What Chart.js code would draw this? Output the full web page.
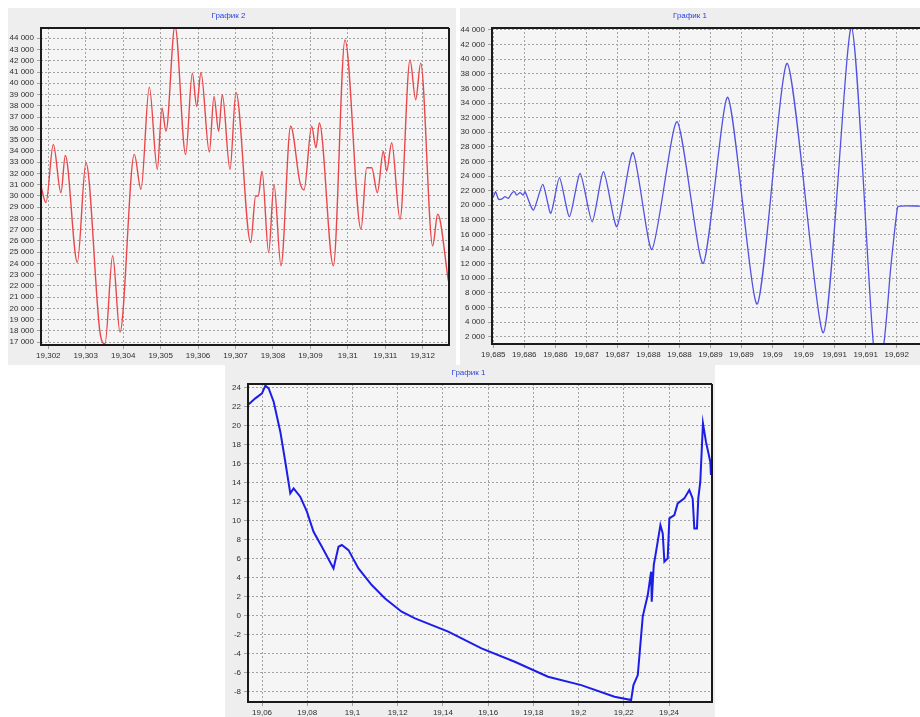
<!DOCTYPE html>
<html><head><meta charset="utf-8">
<script src="https://cdn.jsdelivr.net/npm/chart.js@4"></script>
<style>
html,body{margin:0;padding:0;background:#fff;width:920px;height:717px;overflow:hidden}
.panel{position:absolute;background:#eeeeee}
canvas{display:block}
</style></head><body>
<div class="panel" style="left:8px;top:8px;width:448px;height:357px"><canvas id="cA" width="448" height="357"></canvas></div>
<div class="panel" style="left:460px;top:8px;width:460px;height:357px"><canvas id="cB" width="460" height="357"></canvas></div>
<div class="panel" style="left:225px;top:365px;width:490px;height:352px"><canvas id="cC" width="490" height="352"></canvas></div>
<script>
// ---- Chart "График 2" (top left, red) ----
const titleA = 'График 2';
const xA = [19.301795,19.301938,19.302134,19.302338,19.302454,19.302775,19.303006,19.303380,19.303514,19.303719,
  19.303915,19.304297,19.304475,19.304698,19.304912,19.305036,19.305143,19.305384,19.305669,19.305847,
  19.305963,19.306078,19.306301,19.306426,19.306550,19.306648,19.306853,19.307013,19.307405,19.307539,
  19.307610,19.307708,19.307886,19.308028,19.308215,19.308474,19.308723,19.308830,19.309035,19.309150,
  19.309240,19.309614,19.309925,19.310353,19.310504,19.310638,19.310789,19.310949,19.311038,19.311172,
  19.311394,19.311662,19.311813,19.311947,19.312267,19.312401,19.312686];
const yA = [31020,29400,34560,30280,33590,24090,32940,17890,16860,24680,
  17890,33680,30580,39660,32350,37810,35740,45100,33680,40900,
  37950,40960,33880,38840,35740,38990,32350,39190,25860,29990,
  29990,32200,24970,31020,23790,36180,31170,30520,36180,34270,
  36480,23790,43850,27040,32500,32500,30280,33970,32200,34710,
  27920,42080,38540,41790,25560,28370,22470];
const xTicksA = [19.302,19.303,19.304,19.305,19.306,19.307,19.308,19.309,19.310,19.311,19.312];
const xTickLabelsA = ['19,302','19,303','19,304','19,305','19,306','19,307','19,308','19,309','19,31','19,311','19,312'];
const yTicksA = [17000,18000,19000,20000,21000,22000,23000,24000,25000,26000,27000,28000,29000,30000,
  31000,32000,33000,34000,35000,36000,37000,38000,39000,40000,41000,42000,43000,44000];

// ---- Chart "График 1" (top right, blue) ----
const titleB = 'График 1';
const xB = [19.684973,19.685000,19.685038,19.685081,19.685135,19.685188,19.685242,19.685296,19.685339,19.685377,
  19.685431,19.685484,19.685511,19.685646,19.685797,19.685926,19.686066,19.686227,19.686399,19.686593,
  19.686776,19.686991,19.687250,19.687556,19.687960,19.688380,19.688778,19.689252,19.689736,19.690318,
  19.690770,19.691136,19.691270,19.691405,19.691512,19.691555,19.691889];
const yB = [21080,21170,21850,20850,20850,21170,20940,21630,21850,21400,
  21720,21400,21850,19340,22860,18890,23770,18430,24370,17740,
  24590,17060,27200,13950,31440,12040,34780,6470,39430,2540,
  44370,-300,-300,11580,19710,19890,19890];
const xTicksB = [19.6850,19.6855,19.6860,19.6865,19.6870,19.6875,19.6880,19.6885,19.6890,19.6895,19.6900,19.6905,19.6910,19.6915];
const xTickLabelsB = ['19,685','19,686','19,686','19,687','19,687','19,688','19,688','19,689','19,689','19,69','19,69','19,691','19,691','19,692'];
const yTicksB = [2000,4000,6000,8000,10000,12000,14000,16000,18000,20000,22000,24000,26000,28000,
  30000,32000,34000,36000,38000,40000,42000,44000];

// ---- Chart "График 1" (bottom, blue) ----
const titleC = 'График 1';
const xC = [19.05412,19.05706,19.06000,19.06147,19.06294,19.06515,19.06809,19.07029,19.07250,19.07397,
  19.07691,19.07985,19.08279,19.08647,19.09162,19.09382,19.09529,19.09824,19.10265,19.10853,
  19.11441,19.12176,19.12765,19.14235,19.15706,19.17176,19.18647,19.20118,19.21588,19.22324,
  19.22426,19.22618,19.22838,19.23059,19.23206,19.23235,19.23324,19.23426,19.23618,19.23721,
  19.23794,19.23941,19.24015,19.24235,19.24382,19.24676,19.24897,19.25044,19.25118,19.25235,
  19.25294,19.25382,19.25500,19.25632,19.25824,19.25853];
const yC = [22.25,22.88,23.40,24.21,23.93,22.53,19.37,16.21,12.88,13.40,
  12.53,10.95,8.84,7.26,4.98,7.26,7.44,6.91,4.98,3.23,
  1.82,0.42,-0.28,-1.68,-3.44,-4.84,-6.42,-7.30,-8.53,-8.88,
  -7.30,-6.25,-0.07,2.18,4.63,1.47,5.33,6.74,9.54,8.67,
  5.68,6.04,10.25,10.60,11.82,12.35,13.23,12.35,9.19,9.19,
  12.35,14.11,20.25,18.32,16.21,14.81];
const xTicksC = [19.06,19.08,19.10,19.12,19.14,19.16,19.18,19.20,19.22,19.24];
const xTickLabelsC = ['19,06','19,08','19,1','19,12','19,14','19,16','19,18','19,2','19,22','19,24'];
const yTicksC = [-8,-6,-4,-2,0,2,4,6,8,10,12,14,16,18,20,22,24];

// ---------------------------------------------------------
const fmtSpace = v => { const s = String(Math.round(Math.abs(v))); const g = s.length > 3 ? s.slice(0, -3) + ' ' + s.slice(-3) : s; return (v < 0 ? '-' : '') + g; };
const FONT = {family: '"Liberation Sans", Arial, sans-serif', size: 8};
const TFONT = {family: '"Liberation Sans", Arial, sans-serif', size: 8, weight: 'normal'};

const framePlugin = {
  id: 'frame',
  beforeDraw(chart) {
    const {ctx, chartArea: a} = chart;
    ctx.save();
    ctx.fillStyle = '#f5f5f5';
    ctx.fillRect(a.left, a.top, a.right - a.left, a.bottom - a.top);
    ctx.restore();
  },
  afterDraw(chart, args, opts) {
    const {ctx, chartArea: a} = chart;
    ctx.save();
    ctx.strokeStyle = '#1a1a1a';
    ctx.lineWidth = 2;
    ctx.beginPath();
    ctx.moveTo(a.right, a.top); ctx.lineTo(a.left, a.top); ctx.lineTo(a.left, a.bottom); ctx.lineTo(a.right, a.bottom);
    if (opts.right) { ctx.lineTo(a.right, a.top); }
    ctx.stroke();
    ctx.restore();
  }
};

function makeChart(id, cfg) {
  const data = cfg.xs.map((x, i) => ({x: x, y: cfg.ys[i]}));
  return new Chart(document.getElementById(id), {
    type: 'line',
    data: {datasets: [{data: data, borderColor: cfg.color, borderWidth: cfg.lw, pointRadius: 0,
      tension: cfg.tension, cubicInterpolationMode: cfg.mono ? 'monotone' : 'default', fill: false}]},
    options: {
      responsive: false, animation: false, devicePixelRatio: 1,
      layout: {padding: {left: 0, top: 0, right: cfg.padR, bottom: 0}},
      plugins: {
        legend: {display: false}, tooltip: {enabled: false},
        title: {display: true, text: cfg.title, color: '#2b3fe0', font: TFONT, padding: {top: cfg.tTop, bottom: cfg.tBot}},
        frame: {right: cfg.frameRight}
      },
      scales: {
        x: {
          type: 'linear', min: cfg.xmin, max: cfg.xmax,
          afterBuildTicks: s => { s.ticks = cfg.xTicks.map(v => ({value: v})); },
          afterFit: s => { s.height = cfg.xAxisH; },
          ticks: {autoSkip: false, maxRotation: 0, padding: 2, color: '#2e2e2e', font: FONT,
            callback: (v, i) => cfg.xLabels[i]},
          grid: {color: '#a3a3a3', lineWidth: 1, tickLength: 4},
          border: {display: false, dash: [2, 2]}
        },
        y: {
          type: 'linear', min: cfg.ymin, max: cfg.ymax,
          afterBuildTicks: s => { s.ticks = cfg.yTicks.map(v => ({value: v})); },
          afterFit: s => { s.width = cfg.yAxisW; },
          ticks: {autoSkip: false, padding: 3, color: '#2e2e2e', font: FONT,
            callback: v => fmtSpace(v)},
          grid: {color: '#a3a3a3', lineWidth: 1, tickLength: 4},
          border: {display: false, dash: [2, 2]}
        }
      }
    },
    plugins: [framePlugin]
  });
}

makeChart('cA', {title: titleA, xs: xA, ys: yA, color: '#e8484c', lw: 1.4, mono: true, tension: 0.4,
  xmin: 19.301805, xmax: 19.312703, ymin: 16750, ymax: 44910,
  xTicks: xTicksA, xLabels: xTickLabelsA, yTicks: yTicksA,
  yAxisW: 33, xAxisH: 20, padR: 7, tTop: 3, tBot: 7.4, frameRight: true});

makeChart('cB', {title: titleB, xs: xB, ys: yB, color: '#5252e0', lw: 1.3, mono: false, tension: 0.22,
  xmin: 19.684979, xmax: 19.691875, ymin: 1000, ymax: 44270,
  xTicks: xTicksB, xLabels: xTickLabelsB, yTicks: yTicksB,
  yAxisW: 32, xAxisH: 21, padR: 0, tTop: 3, tBot: 7.4, frameRight: false});

makeChart('cC', {title: titleC, xs: xC, ys: yC, color: '#1d1de8', lw: 2, mono: false, tension: 0,
  xmin: 19.0538, xmax: 19.259, ymin: -9.08, ymax: 24.39,
  xTicks: xTicksC, xLabels: xTickLabelsC, yTicks: yTicksC,
  yAxisW: 23, xAxisH: 15, padR: 3, tTop: 3, tBot: 6.4, frameRight: true});
</script>
</body></html>
